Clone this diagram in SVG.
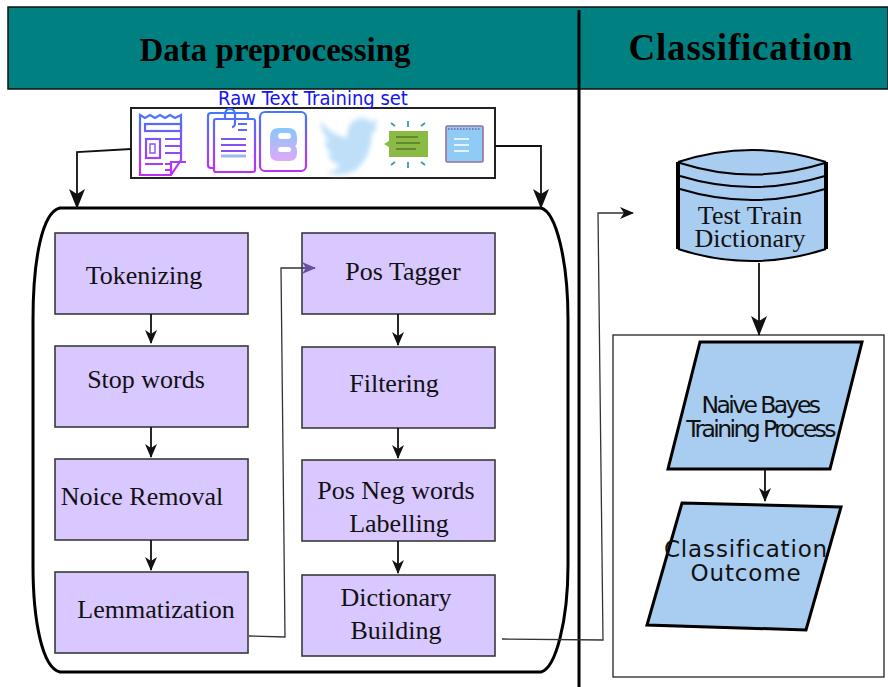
<svg xmlns="http://www.w3.org/2000/svg" width="888" height="687" viewBox="0 0 888 687">
<defs>
<style>
.box{fill:#d9c8ff;stroke:#3a3a3a;stroke-width:1.6}
.blue{fill:#a9cdf0;stroke:#000;stroke-width:3}
.t{font-family:"Liberation Serif",serif;font-size:26px;fill:#111;text-anchor:middle}
.s{font-family:"DejaVu Sans",sans-serif;fill:#111;text-anchor:middle}
.c{fill:none;stroke:#111;stroke-width:1.8}
.thin{fill:none;stroke:#333;stroke-width:1.3}
</style>
<marker id="a" viewBox="0 0 14 14" refX="13" refY="7" markerWidth="14" markerHeight="14" markerUnits="userSpaceOnUse" orient="auto"><path d="M0 1L14 7L0 13L4 7Z" fill="#111"/></marker>
<marker id="b" viewBox="0 0 20 20" refX="19" refY="10" markerWidth="20" markerHeight="20" markerUnits="userSpaceOnUse" orient="auto"><path d="M0 2L20 10L0 18L5 10Z" fill="#111"/></marker>
<marker id="p" viewBox="0 0 14 14" refX="13" refY="7" markerWidth="14" markerHeight="14" markerUnits="userSpaceOnUse" orient="auto"><path d="M0 1L14 7L0 13L4 7Z" fill="#6a4fa0"/></marker>
<linearGradient id="g" gradientUnits="userSpaceOnUse" x1="0" y1="110" x2="0" y2="176"><stop offset="0" stop-color="#3d7bff"/><stop offset="1" stop-color="#c62cf0"/></linearGradient>
<linearGradient id="g2" x1="0" y1="0" x2="0" y2="1"><stop offset="0" stop-color="#86c8fb"/><stop offset="1" stop-color="#e0a8f8"/></linearGradient>
<filter id="blur" x="-20%" y="-20%" width="140%" height="140%"><feGaussianBlur stdDeviation="2.4"/></filter>
</defs>
<rect width="888" height="687" fill="#fff"/>
<g id="header">
<rect x="8" y="7" width="880" height="82" fill="#008080" stroke="#111" stroke-width="1.5"/>
<text x="275" y="61" font-family="Liberation Serif,serif" font-size="33" font-weight="700" text-anchor="middle" fill="#000">Data preprocessing</text>
<text x="741" y="60" font-family="Liberation Serif,serif" font-size="37" font-weight="700" letter-spacing=".8" text-anchor="middle" fill="#000">Classification</text>
<path d="M579 10V687" stroke="#000" stroke-width="3" fill="none"/>
</g>
<g id="raw-text">
<rect x="131" y="108" width="364" height="70" fill="#fff" stroke="#222" stroke-width="2"/>
<text transform="translate(313 105) scale(.9 1)" font-family="DejaVu Sans,sans-serif" font-size="20" text-anchor="middle" fill="#1414f0">Raw Text Training set</text>
<g fill="none" stroke="url(#g)" stroke-width="2.2">
<path d="M140 115l5 3 5-3 5 3 5-3 5 3 5-3 5 3 6-3V160L171 175H140Z"/>
<path d="M171 175V162H186"/>
<rect x="145" y="124" width="36" height="7"/>
<rect x="146" y="139" width="14" height="19"/>
<path d="M165 139h16M165 146h16M165 153h16M145 164h18M165 164h6M165 170h6"/>
<path d="M150 144h5v9h-5z" stroke-width="1.4"/>
<path d="M214 168h-3q-3 0-3-3V116q0-3 3-3h37M248 113v5"/>
<rect x="214" y="119" width="41" height="53" rx="2"/>
<path d="M221 139h25M221 145h25M221 151h25M225 119v-4q0-6 5-6t5 6v8q0 4-3 4"/>
<path d="M238 124h9M238 130h9"/>
<rect x="260" y="112" width="46" height="59" rx="5"/>
</g>
<path d="M221 156h25" stroke="#9cb8f0" stroke-width="3"/>
<path d="M270 134q0-9 9-9h9q9 0 9 9v5q0 3-2 4q2 1 2 4v3q0 8-8 8h-11q-8 0-8-8Z" fill="url(#g2)" transform="translate(0 3)"/>
<rect x="278" y="133" width="13" height="6" rx="3" fill="#fff"/><rect x="278" y="147" width="13" height="5" rx="2.5" fill="#fff"/>
<path d="M322 120q12 14 30 16q-2-16 14-19q8 0 11 4l8-3q-2 5-5 8l5-1q-3 5-7 8q0 22-18 35q-15 7-32 2q10-1 16-7q-11-3-14-11h6q-9-5-9-14l6 2q-10-9-11-20Z" fill="#bfdff8" filter="url(#blur)" transform="translate(320 118) scale(.92 1.03) translate(-322 -117)"/>
<path d="M389 131h39v26h-39v-10l-5-3 5-3Z" fill="#8bbb45"/>
<path d="M396 137h22M396 143h24M396 149h20" stroke="#557a2c" stroke-width="1.5"/>
<path d="M408 121v6M408 162v6M391 123l4 3M425 123l-4 3M391 165l4-3M425 165l-4-3" stroke="#2f9bc4" stroke-width="1.8"/>
<rect x="446" y="126" width="37" height="36" rx="1.5" fill="#8fcbf5" stroke="#96729c" stroke-width="1.6"/>
<path d="M448 129h33" stroke="#7a5a9a" stroke-width="1.5" stroke-dasharray="1.5 1.5"/>
<path d="M454 139h15M454 145h15M454 151h15" stroke="#fff" stroke-width="1.3"/>
</g>
<g id="preprocessing-frame"><path d="M60 208H541C556 212 568 260 568 320V565C568 620 556 668 541 672H60C42 668 33 620 33 565V320C33 260 42 212 60 208Z" fill="none" stroke="#000" stroke-width="3"/></g>
<g id="classification-frame"><rect x="613" y="335" width="271" height="342" fill="none" stroke="#222" stroke-width="1.3"/></g>
<g id="tokenizing"><rect class="box" x="55" y="233" width="193" height="81"/><text class="t" x="144" y="284">Tokenizing</text></g>
<g id="stop-words"><rect class="box" x="55" y="346" width="193" height="81"/><text class="t" x="146" y="388">Stop words</text></g>
<g id="noice-removal"><rect class="box" x="55" y="459" width="193" height="81"/><text class="t" x="142" y="505">Noice Removal</text></g>
<g id="lemmatization"><rect class="box" x="55" y="572" width="193" height="81"/><text class="t" x="156" y="618">Lemmatization</text></g>
<g id="pos-tagger"><rect class="box" x="302" y="233" width="193" height="81"/><text class="t" x="403" y="280">Pos Tagger</text></g>
<g id="filtering"><rect class="box" x="302" y="347" width="193" height="81"/><text class="t" x="394" y="392">Filtering</text></g>
<g id="labelling"><rect class="box" x="302" y="460" width="193" height="81"/><text class="t" x="396" y="499">Pos Neg words</text><text class="t" x="399" y="532">Labelling</text></g>
<g id="dictionary-building"><rect class="box" x="302" y="575" width="193" height="81"/><text class="t" x="396" y="606">Dictionary</text><text class="t" x="396" y="639">Building</text></g>
<g id="test-train-dictionary">
<path d="M678 162Q752 138 826 162V249Q752 273 678 249Z" fill="#a9cdf0"/>
<path d="M678 162V249M826 162V249" stroke="#000" stroke-width="4" fill="none"/>
<path d="M678 162Q752 138 826 162M678 249Q752 273 826 249M680 163Q752 186 825 163M680 176Q752 198 825 176M680 189Q752 211 825 189" stroke="#000" stroke-width="2" fill="none"/>
<text x="750" y="224" font-family="Liberation Serif,serif" font-size="26" text-anchor="middle" fill="#111">Test Train</text>
<text x="750" y="247" font-family="Liberation Serif,serif" font-size="26" text-anchor="middle" fill="#111">Dictionary</text>
</g>
<g id="naive-bayes"><path class="blue" d="M700 342H862L830 469H668Z"/>
<text class="s" x="760" y="413" font-size="23.5" letter-spacing="-2.6">Naive Bayes</text><text class="s" x="760" y="437" font-size="23.5" letter-spacing="-2.6">Training Process</text></g>
<g id="classification-outcome"><path class="blue" d="M682 503L841 507L806 630L647 625Z"/>
<text class="s" x="746" y="557" font-size="23" letter-spacing=".85">Classification</text><text class="s" x="746" y="581" font-size="23" letter-spacing=".85">Outcome</text></g>
<g id="connectors">
<path class="c" d="M131 149L77 152V208" marker-end="url(#b)"/>
<path class="c" d="M495 146H541V208" marker-end="url(#b)"/>
<path class="c" d="M151 314V343" marker-end="url(#a)"/>
<path class="c" d="M151 427V457" marker-end="url(#a)"/>
<path class="c" d="M151 540V570" marker-end="url(#a)"/>
<path class="c" d="M398 314V345" marker-end="url(#a)"/>
<path class="c" d="M398 428V458" marker-end="url(#a)"/>
<path class="c" d="M398 541V573" marker-end="url(#a)"/>
<path class="thin" d="M249 636L285 637L281 268H315" marker-end="url(#p)"/>
<path class="thin" d="M502 639L603 640L598 213H633" marker-end="url(#a)"/>
<path class="c" d="M759 263V335" marker-end="url(#b)"/>
<path class="c" d="M765 469V501" marker-end="url(#a)"/>
</g>
</svg>
